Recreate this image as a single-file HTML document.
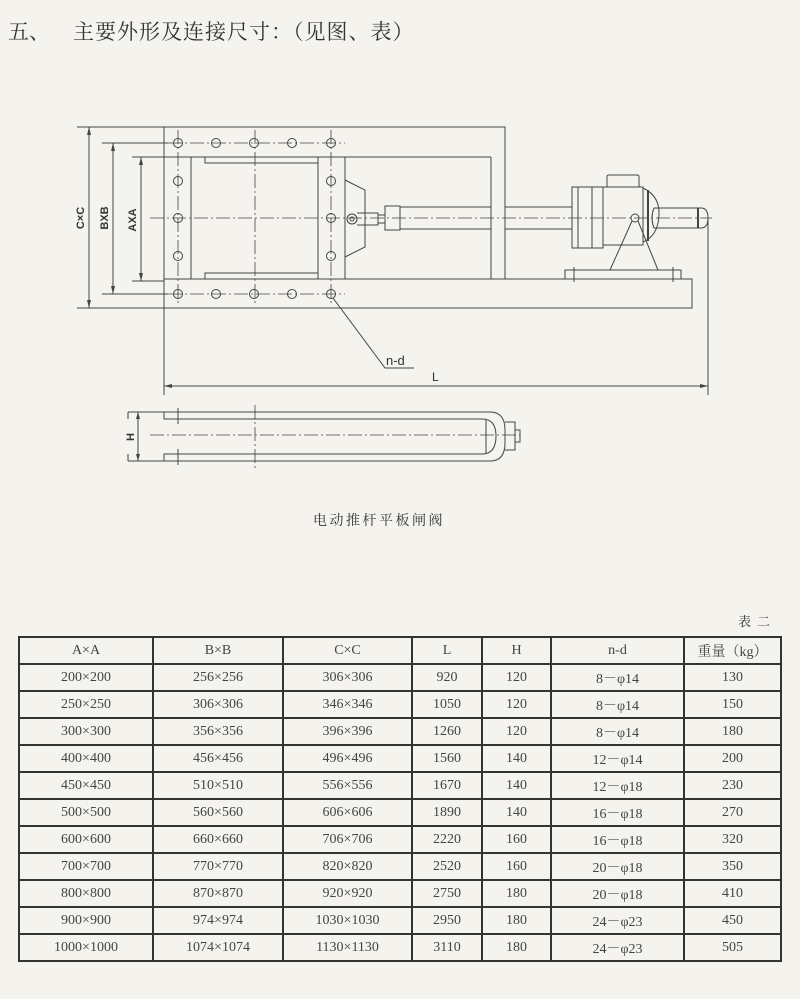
<!DOCTYPE html>
<html><head><meta charset="utf-8"><style>
body{margin:0;background:#f4f3ee;}
.w{position:relative;width:800px;height:999px;background:#f4f3ee;overflow:hidden;font-family:"Liberation Serif","Noto Serif CJK SC",serif;color:#333;}
.t{position:absolute;font-size:21px;top:16px;}
table{position:absolute;left:18px;top:636px;border-collapse:collapse;font-size:14px;color:#444;}
td{border:2px solid #333;height:25px;text-align:center;padding:0;}
</style></head><body><div class="w">
<div class="t" style="left:8px">五、</div>
<div class="t" style="left:73px;letter-spacing:1px">主要外形及连接尺寸：（见图、表）</div>
<svg width="800" height="999" style="position:absolute;left:0;top:0" fill="none" stroke="#444" stroke-width="1">
<g stroke-dasharray="14,3,2,3" stroke-width="0.8">
<line x1="150" y1="218" x2="712" y2="218"/>
<line x1="255" y1="130" x2="255" y2="305"/>
<line x1="168" y1="143" x2="345" y2="143"/>
<line x1="168" y1="294" x2="345" y2="294"/>
<line x1="178" y1="130" x2="178" y2="305"/>
<line x1="331" y1="130" x2="331" y2="305"/>
<line x1="150" y1="435" x2="520" y2="435"/>
<line x1="255" y1="405" x2="255" y2="468"/>
</g>
<path d="M164 127H505V279M164 127V308H692V279H164M164 157H491M491 157V279"/>
<line x1="191" y1="157" x2="191" y2="279"/>
<line x1="318" y1="157" x2="318" y2="279"/>
<line x1="345" y1="157" x2="345" y2="279"/>
<path d="M205 157V163H318M205 279V273H318"/>
<g>
<circle cx="178" cy="143" r="4.5"/><circle cx="216" cy="143" r="4.5"/><circle cx="254" cy="143" r="4.5"/><circle cx="292" cy="143" r="4.5"/><circle cx="331" cy="143" r="4.5"/>
<circle cx="178" cy="294" r="4.5"/><circle cx="216" cy="294" r="4.5"/><circle cx="254" cy="294" r="4.5"/><circle cx="292" cy="294" r="4.5"/><circle cx="331" cy="294" r="4.5"/>
<circle cx="178" cy="181" r="4.5"/><circle cx="178" cy="218" r="4.5"/><circle cx="178" cy="256" r="4.5"/>
<circle cx="331" cy="181" r="4.5"/><circle cx="331" cy="218" r="4.5"/><circle cx="331" cy="256" r="4.5"/>
</g>
<path d="M345 180L365 190V247L345 257"/>
<circle cx="352" cy="219" r="5"/><circle cx="352" cy="219" r="2"/>
<path d="M357 213H378V225H357M378 215H385V223H378"/>
<rect x="385" y="206" width="15" height="24"/>
<path d="M400 207H491M400 229H491M505 207H572M505 229H572"/>
<rect x="572" y="187" width="31" height="61"/>
<line x1="578" y1="187" x2="578" y2="248"/><line x1="592" y1="187" x2="592" y2="248"/>
<path d="M603 187H643V245H603"/>
<path d="M607 187V177Q607 175 609 175H637Q639 175 639 177V187"/>
<path d="M643 188Q660 196 659 215Q658 236 643 242"/>
<line x1="648" y1="190" x2="648" y2="241" stroke-width="2"/>
<path d="M654 208H701Q708 208 708 218Q708 228 701 228H654Q650 218 654 208"/>
<line x1="698" y1="208" x2="698" y2="228" stroke-width="2"/>
<circle cx="635" cy="218" r="4"/>
<path d="M632 221L610 270M638 221L658 270"/>
<rect x="565" y="270" width="116" height="9"/>
<line x1="574" y1="267" x2="574" y2="282"/><line x1="673" y1="267" x2="673" y2="282"/>
<path d="M77 127H164M102 143H168M132 157H164M77 308H164M102 294H168M132 281H164"/>
<line x1="89" y1="127" x2="89" y2="308"/>
<line x1="113" y1="143" x2="113" y2="294"/>
<line x1="141" y1="157" x2="141" y2="281"/>
<g fill="#444" stroke="none">
<path d="M89 127l-2 8h4zM89 308l-2-8h4zM113 143l-2 8h4zM113 294l-2-8h4zM141 157l-2 8h4zM141 281l-2-8h4z"/>
<path d="M164 386l8-2v4zM708 386l-8-2v4zM138 412l-2 7h4zM138 461l-2-7h4z"/>
</g>
<path d="M164 308V395M708 218V395M164 386H708"/>
<path d="M333 298L385 368H414"/>
<g fill="#333" stroke="none" font-family="Liberation Sans,sans-serif" font-weight="bold" font-size="11">
<text transform="translate(84,218) rotate(-90)" text-anchor="middle">C×C</text>
<text transform="translate(108,218) rotate(-90)" text-anchor="middle">BXB</text>
<text transform="translate(136,220) rotate(-90)" text-anchor="middle">AXA</text>
<text transform="translate(134,437) rotate(-90)" text-anchor="middle">H</text>
</g>
<text x="386" y="365" fill="#333" stroke="none" font-family="Liberation Sans,sans-serif" font-size="13">n-d</text>
<text x="432" y="381" fill="#333" stroke="none" font-family="Liberation Sans,sans-serif" font-size="12">L</text>
<path d="M128 412H490Q505 412 505 430V443Q505 461 490 461H128M128 419V412M128 454V461"/>
<path d="M164 412V419H482Q496 419 496 436Q496 454 482 454H164V461"/>
<line x1="138" y1="412" x2="138" y2="461"/>
<line x1="178" y1="408" x2="178" y2="424"/><line x1="178" y1="449" x2="178" y2="465"/>
<line x1="486" y1="420" x2="486" y2="453"/>
<path d="M505 422H515V450H505M515 430H520V442H515"/>
<text x="313" y="525" fill="#333" stroke="none" font-size="14" letter-spacing="2.5">电动推杆平板闸阀</text>
<text x="738" y="626" fill="#333" stroke="none" font-size="13" letter-spacing="6">表二</text>
</svg>
<table>
<colgroup><col style="width:134px"><col style="width:130px"><col style="width:129px"><col style="width:70px"><col style="width:69px"><col style="width:133px"><col style="width:97px"></colgroup>
<tr><td>A×A</td><td>B×B</td><td>C×C</td><td>L</td><td>H</td><td>n-d</td><td>重量（kg）</td></tr>
<tr><td>200×200</td><td>256×256</td><td>306×306</td><td>920</td><td>120</td><td>8－φ14</td><td>130</td></tr>
<tr><td>250×250</td><td>306×306</td><td>346×346</td><td>1050</td><td>120</td><td>8－φ14</td><td>150</td></tr>
<tr><td>300×300</td><td>356×356</td><td>396×396</td><td>1260</td><td>120</td><td>8－φ14</td><td>180</td></tr>
<tr><td>400×400</td><td>456×456</td><td>496×496</td><td>1560</td><td>140</td><td>12－φ14</td><td>200</td></tr>
<tr><td>450×450</td><td>510×510</td><td>556×556</td><td>1670</td><td>140</td><td>12－φ18</td><td>230</td></tr>
<tr><td>500×500</td><td>560×560</td><td>606×606</td><td>1890</td><td>140</td><td>16－φ18</td><td>270</td></tr>
<tr><td>600×600</td><td>660×660</td><td>706×706</td><td>2220</td><td>160</td><td>16－φ18</td><td>320</td></tr>
<tr><td>700×700</td><td>770×770</td><td>820×820</td><td>2520</td><td>160</td><td>20－φ18</td><td>350</td></tr>
<tr><td>800×800</td><td>870×870</td><td>920×920</td><td>2750</td><td>180</td><td>20－φ18</td><td>410</td></tr>
<tr><td>900×900</td><td>974×974</td><td>1030×1030</td><td>2950</td><td>180</td><td>24－φ23</td><td>450</td></tr>
<tr><td>1000×1000</td><td>1074×1074</td><td>1130×1130</td><td>3110</td><td>180</td><td>24－φ23</td><td>505</td></tr>
</table>
</div></body></html>
